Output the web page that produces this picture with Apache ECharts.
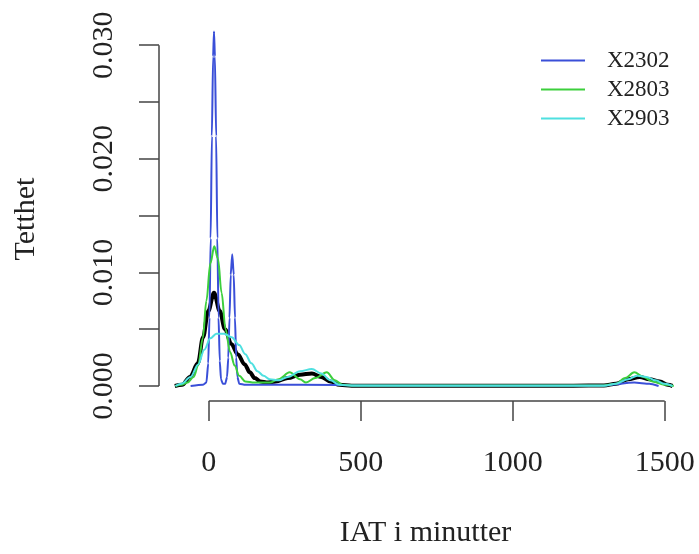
<!DOCTYPE html>
<html>
<head>
<meta charset="utf-8">
<script src="https://cdn.jsdelivr.net/npm/echarts@6/dist/echarts.min.js"></script>
<style>html,body{margin:0;padding:0;background:#fff;}#c{width:699px;height:554px;}</style>
</head>
<body>
<div id="c"></div>
<script>
// Tick values
const xTicks = [0, 500, 1000, 1500];
const yTicks = [0, 0.005, 0.010, 0.015, 0.020, 0.025, 0.030];
const yLabels = [0, 0.010, 0.020, 0.030];

// Overall density (black, thick)
const allX = [-112, -88, -62, -36, -19, -2, 17, 36, 53, 74, 95, 118, 135, 151, 170, 190, 220, 260, 300, 339, 370, 400, 430, 470, 800, 1200, 1300, 1340, 1380, 1418, 1450, 1484, 1510, 1526];
const allY = [0, 0.0001, 0.0008, 0.0020, 0.0043, 0.0066, 0.0082, 0.0066, 0.0050, 0.0037, 0.0028, 0.0019, 0.0012, 0.0007, 0.0004, 0.0003, 0.0004, 0.0007, 0.0010, 0.0011, 0.0008, 0.0004, 0.0001, 0.00003, 0.00003, 0.00003, 0.00005, 0.0002, 0.0006, 0.0008, 0.0006, 0.0004, 0.0001, 0];

// X2302 (blue)
const x2302X = [-60, -20, -8, -2, 2, 6, 10, 14, 17, 20, 24, 28, 32, 36, 40, 46, 54, 60, 64, 68, 72, 77, 82, 86, 90, 94, 100, 120, 300, 800, 1300, 1400, 1450, 1480];
const x2302Y = [0, 0.0001, 0.0003, 0.0020, 0.0060, 0.0130, 0.0220, 0.0290, 0.0312, 0.0290, 0.0220, 0.0130, 0.0060, 0.0022, 0.0006, 0.0002, 0.0002, 0.0008, 0.0025, 0.0060, 0.0098, 0.0116, 0.0098, 0.0060, 0.0025, 0.0008, 0.0002, 0.0001, 0.0001, 0.00005, 0.00005, 0.0003, 0.0002, 0];

// X2803 (green)
const x2803X = [-110, -90, -70, -50, -35, -20, -8, 5, 18, 30, 42, 55, 70, 85, 100, 120, 150, 200, 230, 266, 300, 320, 350, 388, 415, 440, 480, 800, 1300, 1340, 1370, 1400, 1430, 1460, 1500, 1530];
const x2803Y = [0, 0.0001, 0.0003, 0.0008, 0.0018, 0.0042, 0.0075, 0.0108, 0.0123, 0.0112, 0.0082, 0.0050, 0.0030, 0.0018, 0.0009, 0.0004, 0.0003, 0.0003, 0.0006, 0.0012, 0.0006, 0.0003, 0.0007, 0.0012, 0.0005, 0.0001, 0.00005, 0.00005, 0.00005, 0.0002, 0.0007, 0.0012, 0.0008, 0.0004, 0.0001, 0];

// X2903 (cyan)
const x2903X = [-110, -90, -60, -35, -15, 5, 25, 50, 75, 100, 120, 140, 160, 180, 200, 230, 260, 300, 339, 370, 400, 430, 470, 800, 1300, 1340, 1380, 1410, 1440, 1470, 1500, 1526];
const x2903Y = [0, 0.0002, 0.0008, 0.0019, 0.0032, 0.0042, 0.0046, 0.0046, 0.0043, 0.0036, 0.0028, 0.0020, 0.0013, 0.0009, 0.0006, 0.0005, 0.0008, 0.0013, 0.0015, 0.0011, 0.0005, 0.0001, 0.00003, 0.00003, 0.00003, 0.0002, 0.0006, 0.0009, 0.0008, 0.0005, 0.0002, 0];

const xMin = -164, xMax = 1590, yMin = -0.00132, yMax = 0.03248;
const FONT = 'Liberation Serif';
const TXT = '#222';
const AX = '#444';

function pairs(xs, ys) { return xs.map((x, i) => [x, ys[i]]); }

const chart = echarts.init(document.getElementById('c'), null, {renderer: 'canvas'});
const lineBase = {type: 'line', showSymbol: false, symbol: 'none', smooth: 0.35, smoothMonotone: 'x', animation: false};

chart.setOption({
  animation: false,
  backgroundColor: '#fff',
  grid: {left: 159, right: 7, top: 17, bottom: 153, containLabel: false},
  legend: {
    data: ['X2302', 'X2803', 'X2903'],
    orient: 'vertical', left: 541, top: 49, padding: 0,
    icon: 'rect', itemWidth: 44, itemHeight: 2, itemGap: 6,
    textStyle: {fontFamily: FONT, fontSize: 23, color: TXT, padding: [0, 0, 0, 17]},
    selectedMode: false
  },
  xAxis: {
    type: 'value', min: xMin, max: xMax,
    axisLine: {show: false, onZero: false},
    splitLine: {show: false},
    axisTick: {show: true, length: 20, customValues: xTicks, lineStyle: {color: AX, width: 1.5}},
    axisLabel: {customValues: xTicks, margin: 47, fontFamily: FONT, fontSize: 30, color: TXT,
      formatter: v => String(v)},
    name: 'IAT i minutter', nameLocation: 'middle', nameGap: 117,
    nameTextStyle: {fontFamily: FONT, fontSize: 30, color: TXT}
  },
  yAxis: {
    type: 'value', min: yMin, max: yMax,
    axisLine: {show: false, onZero: false},
    splitLine: {show: false},
    axisTick: {show: true, length: 20, customValues: yTicks, lineStyle: {color: AX, width: 1.5}},
    axisLabel: {customValues: yLabels, rotate: 90, margin: 40, fontFamily: FONT, fontSize: 30, color: TXT,
      formatter: v => v.toFixed(3)},
    name: 'Tetthet', nameLocation: 'middle', nameGap: 118, nameRotate: 90,
    nameTextStyle: {fontFamily: FONT, fontSize: 30, color: TXT, padding: [0, 20, 0, 0]}
  },
  series: [
    {type: 'line', name: 'xaxisline', data: [[xTicks[0], yMin], [xTicks[xTicks.length - 1], yMin]], symbol: 'none', clip: false, silent: true,
      lineStyle: {color: AX, width: 1.5}},
    {type: 'line', name: 'yaxisline', data: [[xMin, yTicks[0]], [xMin, yTicks[yTicks.length - 1]]], symbol: 'none', clip: false, silent: true,
      lineStyle: {color: AX, width: 1.5}},
    Object.assign({}, lineBase, {name: 'all', data: pairs(allX, allY), lineStyle: {color: '#000', width: 4}, itemStyle: {color: '#000'}, z: 2}),
    Object.assign({}, lineBase, {name: 'X2302', data: pairs(x2302X, x2302Y), smooth: 0.2, lineStyle: {color: '#3a4fd8', width: 2}, itemStyle: {color: '#3a4fd8'}, z: 3}),
    Object.assign({}, lineBase, {name: 'X2803', data: pairs(x2803X, x2803Y), lineStyle: {color: '#3ccf3c', width: 2}, itemStyle: {color: '#3ccf3c'}, z: 4}),
    Object.assign({}, lineBase, {name: 'X2903', data: pairs(x2903X, x2903Y), lineStyle: {color: '#4fe0e0', width: 2}, itemStyle: {color: '#4fe0e0'}, z: 5})
  ]
});
</script>
</body>
</html>
